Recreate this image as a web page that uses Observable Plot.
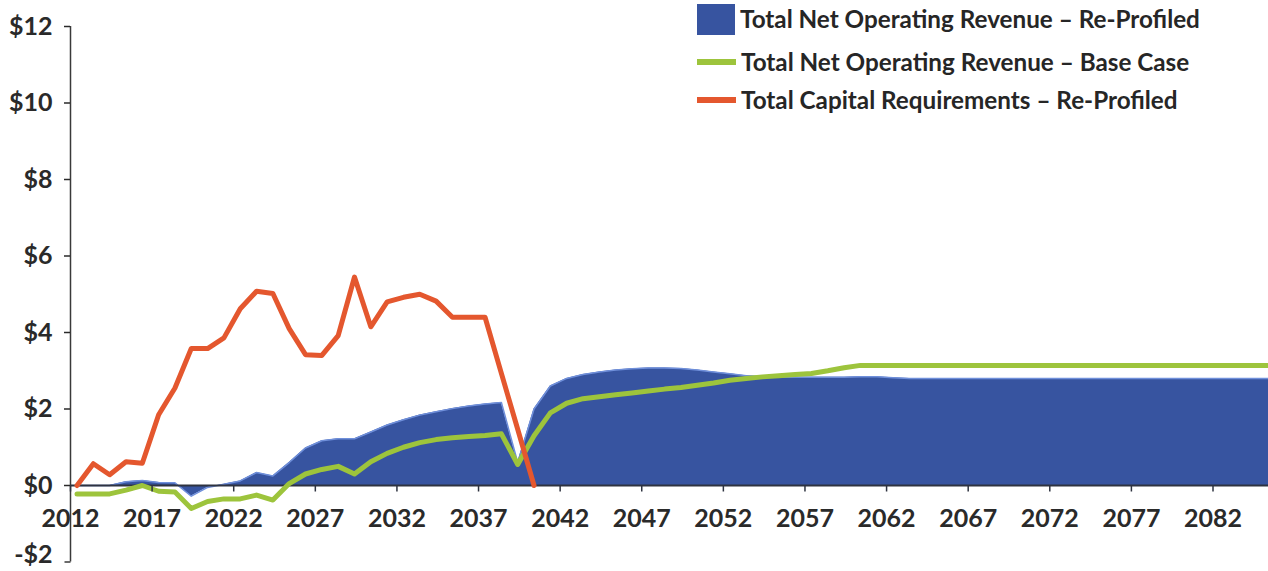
<!DOCTYPE html>
<html>
<head>
<meta charset="utf-8">
<script src="https://cdn.jsdelivr.net/npm/d3@7"></script>
<script src="https://cdn.jsdelivr.net/npm/@observablehq/plot@0.6"></script>
<style>
  html, body { margin: 0; padding: 0; background: #fff; }
  #wrap { position: relative; width: 1268px; height: 571px; overflow: hidden; }
  #legend { position: absolute; left: 0; top: 0; font-family: Lato, "Open Sans", sans-serif; font-weight: 700; color: #262626; }
  .row { position: absolute; left: 697px; display: flex; align-items: center; white-space: nowrap; }
  .sw { flex: none; }
  .lab { margin-left: 5px; line-height: 1; }
</style>
</head>
<body>
<div id="wrap">
  <div id="chart"></div>
  <div id="legend"></div>
</div>
<script>
// ---------------- data ----------------
const years = [2012,2013,2014,2015,2016,2017,2018,2019,2020,2021,2022,2023,2024,2025,2026,2027,2028,2029,2030,2031,
  2032,2033,2034,2035,2036,2037,2038,2039,2040,2041,2042,2043,2044,2045,2046,2047,2048,2049,2050,2051,
  2052,2053,2054,2055,2056,2057,2058,2059,2060,2061,2062,2063,2064,2065,2066,2067,2068,2069,2070,2071,
  2072,2073,2074,2075,2076,2077,2078,2079,2080,2081,2082,2083,2084,2085,2086];

// Total Net Operating Revenue – Re-Profiled ($ billions)
const revReProfiled = [0,0,0.0,0.1,0.13,0.08,0.07,-0.28,-0.05,0.03,0.12,0.34,0.25,0.6,0.98,1.17,1.22,1.22,1.4,1.58,
  1.72,1.84,1.93,2.01,2.08,2.13,2.17,0.6,2.0,2.6,2.8,2.9,2.97,3.02,3.05,3.07,3.07,3.06,3.02,2.97,
  2.92,2.87,2.84,2.83,2.83,2.83,2.83,2.83,2.84,2.84,2.82,2.8,2.8,2.8,2.8,2.8,2.8,2.8,2.8,2.8,
  2.8,2.8,2.8,2.8,2.8,2.8,2.8,2.8,2.8,2.8,2.8,2.8,2.8,2.8,2.8];

// Total Net Operating Revenue – Base Case
const revBaseCase = [-0.22,-0.22,-0.22,-0.12,0.0,-0.15,-0.17,-0.6,-0.42,-0.35,-0.35,-0.25,-0.38,0.05,0.3,0.42,0.5,0.3,0.62,0.84,
  1.0,1.12,1.2,1.25,1.28,1.31,1.35,0.55,1.3,1.9,2.15,2.27,2.32,2.37,2.42,2.47,2.52,2.56,2.62,2.68,
  2.75,2.8,2.84,2.87,2.9,2.93,3.0,3.08,3.14,3.14,3.14,3.14,3.14,3.14,3.14,3.14,3.14,3.14,3.14,3.14,
  3.14,3.14,3.14,3.14,3.14,3.14,3.14,3.14,3.14,3.14,3.14,3.14,3.14,3.14,3.14];

// Total Capital Requirements – Re-Profiled (2012–2040)
const capYears = [2012,2013,2014,2015,2016,2017,2018,2019,2020,2021,2022,2023,2024,2025,2026,2027,2028,2029,2030,2031,
  2032,2033,2034,2035,2036,2037,2038,2039,2040];
const capReProfiled = [0,0.57,0.28,0.62,0.58,1.85,2.55,3.58,3.58,3.86,4.62,5.08,5.02,4.1,3.42,3.4,3.92,5.45,4.15,4.8,
  4.92,5.0,4.82,4.4,4.4,4.4,2.93,1.47,0];

const xTickYears = [2012,2017,2022,2027,2032,2037,2042,2047,2052,2057,2062,2067,2072,2077,2082];
const yTicksUpper = [0,2,4,6,8,10,12];
const yTicksLower = [-2];

const seriesNames = [
  "Total Net Operating Revenue \u2013 Re-Profiled",
  "Total Net Operating Revenue \u2013 Base Case",
  "Total Capital Requirements \u2013 Re-Profiled"
];

// ---------------- styles ----------------
const BLUE = "#3754a0", GREEN = "#9dc43c", ORANGE = "#e4572e";
const AXIS = "#2e3340", TEXT = "#2a2a2a";
const FONT = "Lato, 'Open Sans', sans-serif";
const xStart = 2011.6, xEnd = 2085.0, tickShift = 0.4;

const revRows = years.map((year, i) => ({year, value: revReProfiled[i]}));
const baseRows = years.map((year, i) => ({year, value: revBaseCase[i]}));
const capRows = capYears.map((year, i) => ({year, value: capReProfiled[i]}));

const fmt = d => d < 0 ? "-$" + (-d) : "$" + d;
const downTick = { draw(ctx) { ctx.moveTo(0, 0); ctx.lineTo(0, 6); } };
const leftTick = { draw(ctx) { ctx.moveTo(0, 0); ctx.lineTo(-6, 0); } };
const yAxisStyle = { tickFormat: fmt, tickSize: 6, tickPadding: 12, fontSize: 25, fontWeight: "bold",
  color: TEXT, label: null, strokeWidth: 1.5 };

const chart = Plot.plot({
  width: 1268, height: 571,
  marginLeft: 70, marginRight: 0, marginTop: 26, marginBottom: 9.5,
  style: { background: "transparent", fontFamily: FONT },
  x: { domain: [xStart, xEnd], axis: null },
  y: { domain: [-2, 12], axis: null },
  marks: [
    Plot.areaY(revRows, { x: "year", y: "value", fill: BLUE, clip: true }),
    Plot.lineY(revRows, { x: "year", y: "value", stroke: "#6f8fda", strokeWidth: 1.5, clip: true }),
    Plot.ruleY([0], { stroke: AXIS, strokeWidth: 2 }),
    Plot.lineY(baseRows, { x: "year", y: "value", stroke: GREEN, strokeWidth: 5, clip: true }),
    Plot.lineY(capRows, { x: "year", y: "value", stroke: ORANGE, strokeWidth: 5, clip: true }),
    Plot.ruleX([xStart], { y1: -2, y2: 12, stroke: "#3a3a3a", strokeWidth: 1.5 }),
    Plot.axisY({ ticks: yTicksUpper, ...yAxisStyle }),
    Plot.axisY({ ticks: yTicksLower, ...yAxisStyle, tickSize: 0, tickPadding: 18, dy: -7 }),
    Plot.dot(yTicksLower, { x: () => xStart, y: d => d, symbol: leftTick, stroke: "#3a3a3a", fill: "none", strokeWidth: 1.5 }),
    Plot.dot(xTickYears, { x: d => d - tickShift, y: () => 0, symbol: downTick, stroke: AXIS, fill: "none", strokeWidth: 1.5 }),
    Plot.text(xTickYears, { x: d => d - tickShift, y: () => 0, text: d => String(d), dy: 33,
      fontSize: 25, fontWeight: "bold", fill: TEXT })
  ]
});
document.getElementById("chart").appendChild(chart);

// ---------------- legend ----------------
const legend = document.getElementById("legend");
const rows = [
  { name: seriesNames[0], color: BLUE, top: 3, h: 32, sw: [38, 31] },
  { name: seriesNames[1], color: GREEN, top: 50, h: 24, sw: [39, 6] },
  { name: seriesNames[2], color: ORANGE, top: 88, h: 24, sw: [39, 6] }
];
const labels = [];
rows.forEach(r => {
  const row = document.createElement("div");
  row.className = "row";
  row.style.top = r.top + "px";
  row.style.height = r.h + "px";
  const sw = document.createElement("div");
  sw.className = "sw";
  sw.style.width = r.sw[0] + "px";
  sw.style.height = r.sw[1] + "px";
  sw.style.background = r.color;
  const lab = document.createElement("span");
  lab.className = "lab";
  lab.textContent = r.name;
  lab.style.fontSize = "21px";
  row.appendChild(sw);
  row.appendChild(lab);
  legend.appendChild(row);
  labels.push(lab);
});
// fit first label to the reference width (~460px)
const w0 = labels[0].getBoundingClientRect().width;
const fs = 21 * 460 / w0;
labels.forEach(l => l.style.fontSize = fs.toFixed(2) + "px");
</script>
</body>
</html>
